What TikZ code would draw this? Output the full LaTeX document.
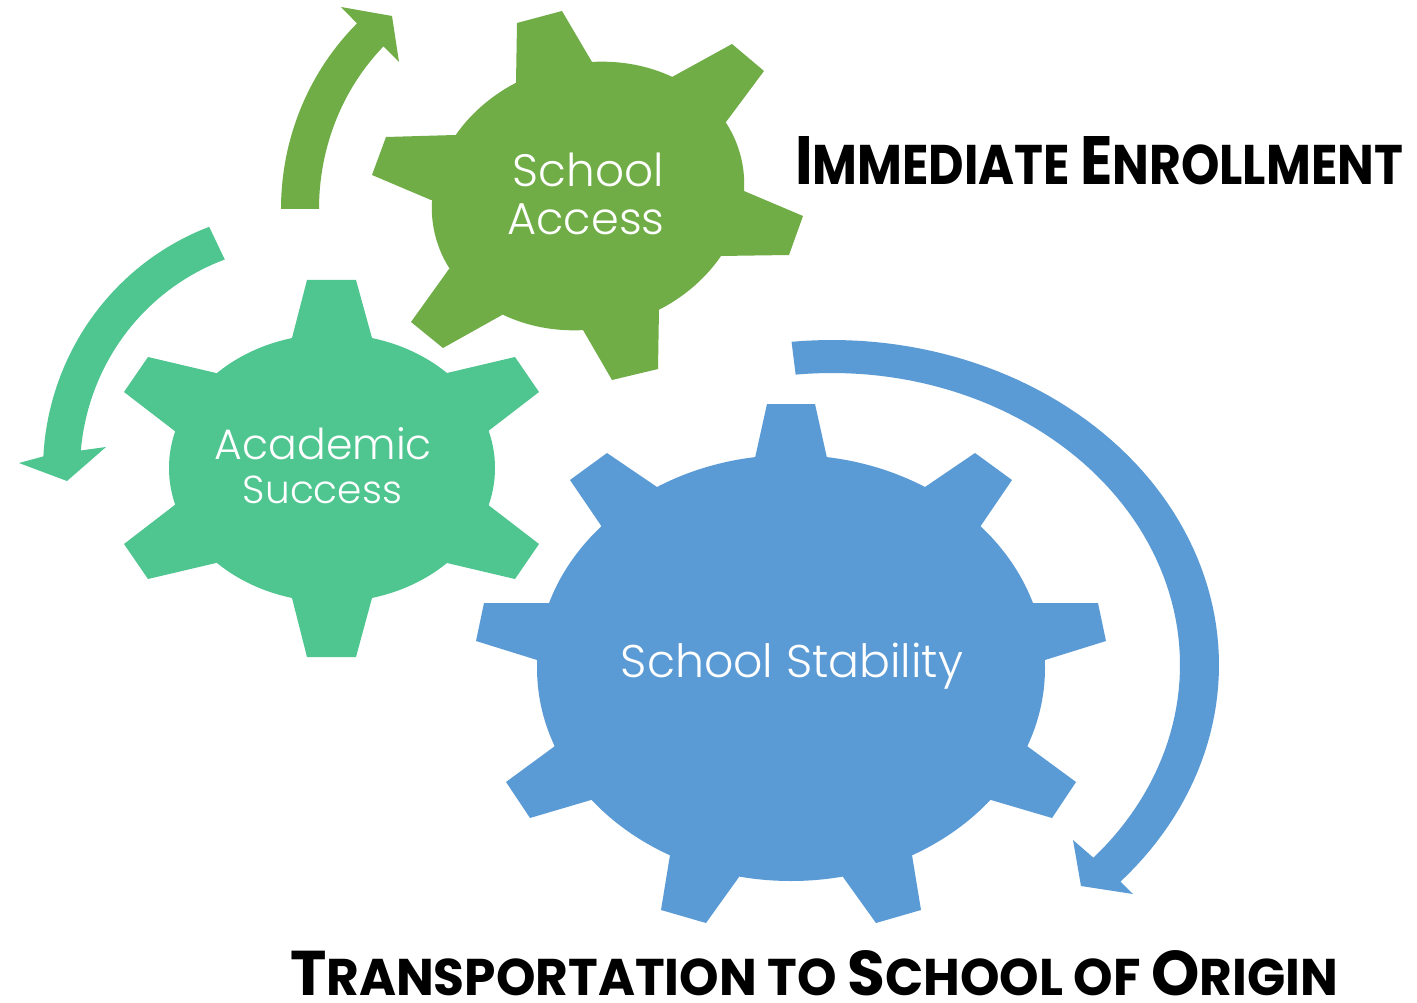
\documentclass[tikz,border=0pt]{standalone}
\usepackage{fontspec}
\setmainfont{Poppins}
\newfontfamily\gearfont{Poppins Light}
\usepackage{graphicx}
\definecolor{gGreen}{HTML}{70AD47}
\definecolor{gTeal}{HTML}{4FC690}
\definecolor{gBlue}{HTML}{5B9BD5}
\newcommand\ttlbig{\fontsize{60}{60}\selectfont}
\newcommand\ttlsmall{\fontsize{49}{49}\selectfont}
\tikzset{
  lbl/.style={inner sep=0pt, outer sep=0pt, text=white, anchor=base, font=\gearfont},
  ttl/.style={inner sep=0pt, outer sep=0pt, text=black, anchor=base west, font=\bfseries},
}
\begin{document}
\begin{tikzpicture}[x=1pt,y=-1pt]
\useasboundingbox (0,0) rectangle (1417,1003);
\fill[white] (0,0) rectangle (1417,1003);

% ---------- School Access gear (green) ----------
\begin{scope}[fill=gGreen]
\fill[rotate around={15.2:(588,196)}] (588,196) ellipse [x radius=157.8, y radius=132.4];
\fill (516,83) -- (517,23) -- (562,11) -- (592,62) -- (588,196) -- cycle;
\fill (672,77) -- (732,44) -- (764,71) -- (726,122) -- (588,196) -- cycle;
\fill (744,191) -- (803,216) -- (789,255) -- (720,256) -- (588,196) -- cycle;
\fill (659,309) -- (658,369) -- (612,380) -- (583,330) -- (588,196) -- cycle;
\fill (502,315) -- (443,348) -- (411,322) -- (449,269) -- (588,196) -- cycle;
\fill (431,200) -- (372,175) -- (386,137) -- (455,135) -- (588,196) -- cycle;
\end{scope}

% ---------- Academic Success gear (teal) ----------
\begin{scope}[fill=gTeal]
\fill (332,468) ellipse [x radius=163, y radius=134];
\fill (292,338) -- (307,280) -- (356,280) -- (372,338) -- (332,468) -- cycle;
\fill (447,373) -- (515,357) -- (539,392) -- (487,432) -- (332,468) -- cycle;
\fill (487,504) -- (539,544) -- (515,579) -- (447,563) -- (332,468) -- cycle;
\fill (372,598) -- (356,657) -- (307,657) -- (292,598) -- (332,468) -- cycle;
\fill (216,563) -- (148,579) -- (124,544) -- (176,504) -- (332,468) -- cycle;
\fill (176,432) -- (124,392) -- (148,357) -- (216,373) -- (332,468) -- cycle;
\end{scope}

% ---------- School Stability gear (blue) ----------
\begin{scope}[fill=gBlue]
\fill (791,668) ellipse [x radius=254, y radius=213];
\fill (755,458) -- (767,404) -- (815,404) -- (827,458) -- (791,668) -- cycle;
\fill (925,487) -- (975,453) -- (1012,480) -- (980,527) -- (791,668) -- cycle;
\fill (1031,603) -- (1098,603) -- (1106,641) -- (1045,660) -- (791,668) -- cycle;
\fill (1027,746) -- (1076,782) -- (1052,818) -- (991,800) -- (791,668) -- cycle;
\fill (912,855) -- (921,910) -- (876,923) -- (843,877) -- (791,668) -- cycle;
\fill (739,877) -- (706,923) -- (661,910) -- (670,855) -- (791,668) -- cycle;
\fill (591,800) -- (530,818) -- (506,782) -- (555,746) -- (791,668) -- cycle;
\fill (537,660) -- (476,641) -- (484,603) -- (551,603) -- (791,668) -- cycle;
\fill (602,527) -- (570,480) -- (607,453) -- (657,487) -- (791,668) -- cycle;
\end{scope}

% ---------- circular arrows ----------
\fill[gGreen] plot[domain=180:134,samples=40] ({530+249*cos(\x)},{209-258*sin(\x)})
  -- (341,7) -- (392,16) -- (399,62)
  -- plot[domain=134:180,samples=40] ({530+211*cos(\x)},{209-226*sin(\x)}) -- cycle;

\fill[gTeal] plot[domain=110.7:177,samples=40] ({300+257*cos(\x)},{470-260*sin(\x)})
  -- (19,463) -- (67,481) -- (106,447)
  -- plot[domain=175:110,samples=40] ({300+220*cos(\x)},{470-224*sin(\x)}) -- cycle;

\fill[gBlue] plot[domain=96:-41.8,samples=80] ({832+387*cos(\x)},{665-325*sin(\x)})
  -- (1133,894) -- (1081,886) -- (1073,840)
  -- plot[domain=-41.3:96,samples=80] ({832+348*cos(\x)},{665-292*sin(\x)}) -- cycle;

% ---------- gear labels ----------
\node[lbl] (accessA) at (588.5,187) {\resizebox{151pt}{!}{School}};
\node[lbl] (accessB) at (586,235) {\resizebox{157pt}{!}{Access}};
\node[lbl] (acadA) at (323.5,459) {\resizebox{217pt}{!}{Academic}};
\node[lbl] (acadB) at (322.5,503) {\resizebox{159pt}{!}{Success}};
\node[lbl] (stab) at (792,677) {\resizebox{342pt}{!}{School Stability}};

% ---------- titles ----------
\node[ttl] (enroll) at (795,185) {\resizebox{608pt}{48pt}{\ttlbig I\ttlsmall MMEDIATE \ttlbig E\ttlsmall NROLLMENT}};
\node[ttl] (transport) at (290,995) {\resizebox{1048pt}{45pt}{\ttlbig T\ttlsmall RANSPORTATION TO \ttlbig S\ttlsmall CHOOL OF \ttlbig O\ttlsmall RIGIN}};
\end{tikzpicture}
\end{document}
